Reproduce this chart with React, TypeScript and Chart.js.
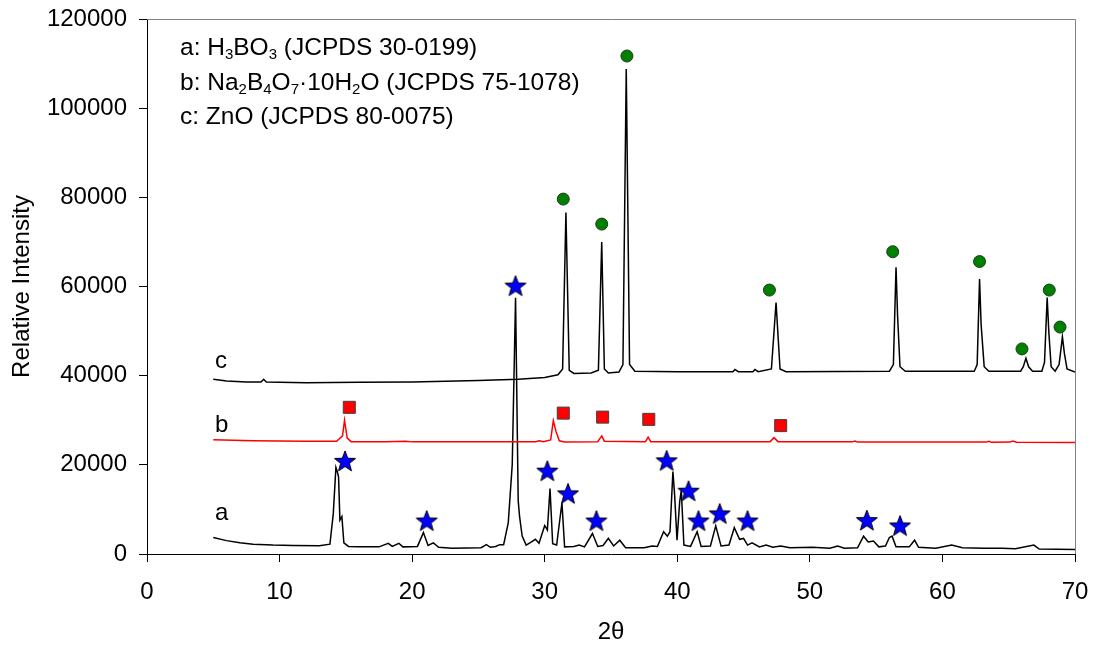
import React, { useEffect, useRef } from 'react';
import { Chart, registerables } from 'chart.js';

Chart.register(...registerables);

const FONT = '"Liberation Sans", Arial, sans-serif';

// x axis (2θ) and y axis (intensity) ticks
const xTicks = [0, 10, 20, 30, 40, 50, 60, 70];
const yTicks = [0, 20000, 40000, 60000, 80000, 100000, 120000];

// trace a: H3BO3 (black, bottom)
const traceA: [number, number][] = [
  [5.0, 3700], [6.0, 3000], [7.0, 2500], [8.0, 2200], [9.5, 2000], [11, 1900], [13.0, 1850],
  [13.8, 2200], [14.05, 9000], [14.25, 19400], [14.35, 18500], [14.45, 17300], [14.55, 7600],
  [14.7, 8400], [14.85, 2500], [15.2, 1700], [16, 1600], [17.5, 1600], [18.2, 2400], [18.5, 1700],
  [19.0, 2400], [19.3, 1600], [20.4, 1700], [20.85, 4800], [21.2, 1900], [21.6, 2500], [22.0, 1500],
  [23, 1300], [25.2, 1400], [25.6, 2100], [25.9, 1500], [26.3, 1700], [26.6, 2100], [26.9, 2100],
  [27.25, 7000], [27.55, 20000], [27.8, 57500], [28.0, 12000], [28.1, 8500], [28.3, 4000],
  [28.6, 2000], [29.0, 2700], [29.3, 3300], [29.57, 2400], [30.0, 6400], [30.2, 5400], [30.4, 14700],
  [30.6, 2300], [30.9, 2000], [31.3, 11500], [31.5, 1600], [32.2, 1700], [32.6, 2000], [33.0, 1600],
  [33.6, 4600], [34.0, 1700], [34.4, 1900], [34.8, 3500], [35.2, 1800], [35.66, 3100], [36.1, 1400],
  [37.5, 1400], [38.1, 1800], [38.5, 1700], [38.97, 5000], [39.25, 4000], [39.45, 5000], [39.67, 18500],
  [39.8, 13200], [39.98, 3100], [40.18, 11700], [40.3, 14300], [40.5, 2000], [41.0, 1700], [41.5, 5000],
  [41.8, 1700], [42.5, 1800], [42.9, 6300], [43.3, 1800], [43.9, 2000], [44.3, 5900], [44.7, 3300],
  [45.0, 3500], [45.3, 2000], [45.64, 2500], [46.2, 1600], [46.7, 2000], [47.2, 1500], [47.8, 1800],
  [48.5, 1400], [50.2, 1500], [51.5, 1300], [52.1, 1800], [52.6, 1300], [53.6, 1400], [54.05, 4000],
  [54.4, 2700], [54.8, 2900], [55.2, 1600], [55.7, 1800], [56.0, 3700], [56.2, 4000], [56.5, 1600],
  [57.5, 1600], [57.9, 3100], [58.2, 1500], [59.5, 1300], [60.7, 2000], [61.5, 1400], [63.1, 1300],
  [64.5, 1300], [65.5, 1200], [66.9, 2000], [67.3, 1100], [70, 1000],
];

// trace b: Na2B4O7·10H2O (red, middle)
const traceB: [number, number][] = [
  [5, 25600], [8, 25400], [12, 25300], [14.3, 25300], [14.75, 26500], [14.9, 30000], [15.1, 26000],
  [15.4, 25200], [18, 25200], [19.5, 25300], [20, 25150], [29.3, 25200], [29.6, 25400], [29.9, 25200],
  [30.45, 25600], [30.65, 29900], [30.85, 27500], [31.1, 25400], [31.5, 25100], [34.0, 25200],
  [34.3, 26500], [34.5, 25300], [37.6, 25200], [37.8, 26200], [38.0, 25200], [47.0, 25200],
  [47.3, 26100], [47.6, 25200], [53.2, 25150], [53.4, 25350], [53.6, 25100], [63.3, 25100],
  [63.5, 25300], [63.7, 25050], [65.1, 25100], [65.3, 25350], [65.6, 25050], [70, 25000],
];

// trace c: ZnO (black, top)
const traceC: [number, number][] = [
  [5, 39200], [6, 38800], [7.5, 38600], [8.6, 38600], [8.8, 39200], [9.0, 38600], [12, 38400],
  [16, 38500], [20, 38600], [25, 38900], [28, 39200], [30, 39600], [31.0, 40200], [31.35, 41500],
  [31.6, 76600], [31.85, 41200], [32.2, 40500], [33.5, 40600], [34.05, 41200], [34.3, 70000],
  [34.5, 41500], [34.8, 40600], [35.6, 40800], [35.9, 42500], [36.15, 108800], [36.4, 42500],
  [36.8, 41000], [40, 40900], [44.2, 40900], [44.35, 41400], [44.6, 40900], [45.7, 40900],
  [45.86, 41400], [46.1, 40900], [47.1, 41500], [47.45, 56400], [47.75, 41500], [48.2, 40900],
  [56.0, 41000], [56.3, 42500], [56.5, 64300], [56.62, 53200], [56.8, 42000], [57.2, 41000],
  [62.4, 41000], [62.62, 42500], [62.8, 61700], [62.92, 51400], [63.15, 42000], [63.5, 41000],
  [65.9, 41000], [66.1, 42000], [66.3, 43900], [66.5, 42000], [66.8, 41000], [67.5, 41000],
  [67.7, 43000], [67.9, 57500], [68.03, 49600], [68.2, 42000], [68.5, 41000], [68.8, 42500],
  [69.05, 48700], [69.2, 45000], [69.4, 41500], [70, 40800],
];

// phase markers
const starMarks: [number, number][] = [
  [14.94, 20900], [21.1, 7500], [27.8, 60200], [30.2, 18700], [31.76, 13600], [33.9, 7500],
  [39.2, 21000], [40.85, 14200], [41.6, 7500], [43.2, 9100], [45.3, 7500], [54.3, 7600], [56.8, 6400],
];
const squareMarks: [number, number][] = [
  [15.26, 32900], [31.4, 31600], [34.37, 30700], [37.85, 30200], [47.8, 28800],
];
const circleMarks: [number, number][] = [
  [31.4, 79600], [34.3, 74000], [36.2, 111700], [46.95, 59200], [56.25, 67800], [62.8, 65600],
  [66.0, 46000], [68.06, 59200], [68.87, 50900],
];

// trace letters: text, 2θ, intensity (baseline)
const traceLabels: [string, number, number][] = [
  ['a', 5.13, 7600], ['b', 5.13, 27400], ['c', 5.13, 41700],
];

// legend lines: [text, isSubscript]
const legendLines: [string, boolean][][] = [
  [['a: H', false], ['3', true], ['BO', false], ['3', true], [' (JCPDS 30-0199)', false]],
  [['b: Na', false], ['2', true], ['B', false], ['4', true], ['O', false], ['7', true],
    ['\u00b710H', false], ['2', true], ['O (JCPDS 75-1078)', false]],
  [['c: ZnO (JCPDS 80-0075)', false]],
];

function makeStar(R: number, r: number): HTMLCanvasElement {
  const size = Math.ceil(2 * R + 4);
  const c = document.createElement('canvas');
  c.width = size;
  c.height = size;
  const ctx = c.getContext('2d')!;
  const cx = size / 2;
  const cy = size / 2 + R * 0.095;
  ctx.beginPath();
  for (let i = 0; i < 10; i++) {
    const rad = i % 2 === 0 ? R : r;
    const a = -Math.PI / 2 + (i * Math.PI) / 5;
    const px = cx + rad * Math.cos(a);
    const py = cy + rad * Math.sin(a);
    if (i === 0) ctx.moveTo(px, py);
    else ctx.lineTo(px, py);
  }
  ctx.closePath();
  ctx.fillStyle = '#0000ff';
  ctx.fill();
  ctx.strokeStyle = '#000000';
  ctx.lineWidth = 1;
  ctx.stroke();
  return c;
}

const toXY = (arr: [number, number][]) => arr.map(([x, y]) => ({ x, y }));

export default function App() {
  const ref = useRef<HTMLCanvasElement>(null);

  useEffect(() => {
    if (!ref.current) return;
    const star = makeStar(11, 4.6);

    const annot = {
      id: 'annot',
      afterDraw(chart: any) {
        const { ctx, chartArea, scales } = chart;
        ctx.save();
        // frame top/right
        ctx.strokeStyle = '#808080';
        ctx.lineWidth = 1;
        ctx.beginPath();
        ctx.moveTo(chartArea.left, chartArea.top + 0.5);
        ctx.lineTo(chartArea.right + 0.5, chartArea.top + 0.5);
        ctx.lineTo(chartArea.right + 0.5, chartArea.bottom);
        ctx.stroke();

        ctx.fillStyle = '#000';
        ctx.textBaseline = 'alphabetic';
        ctx.textAlign = 'left';
        // trace letters
        ctx.font = `24px ${FONT}`;
        traceLabels.forEach(([t, x, y]) => {
          ctx.fillText(t, scales.x.getPixelForValue(x), scales.y.getPixelForValue(y));
        });
        // legend
        legendLines.forEach((line, i) => {
          let px = 180;
          const by = 55 + i * 34.5;
          line.forEach(([t, sub]) => {
            ctx.font = `${sub ? 15 : 24.5}px ${FONT}`;
            ctx.fillText(t, px, by + (sub ? 4 : 0));
            px += ctx.measureText(t).width;
          });
        });
        ctx.restore();
      },
    };

    const chart = new Chart(ref.current, {
      type: 'scatter',
      data: {
        datasets: [
          { type: 'line', data: toXY(traceA), borderColor: '#000', borderWidth: 1.5, pointRadius: 0, tension: 0, fill: false, order: 5 },
          { type: 'line', data: toXY(traceB), borderColor: '#ff0000', borderWidth: 1.5, pointRadius: 0, tension: 0, fill: false, order: 4 },
          { type: 'line', data: toXY(traceC), borderColor: '#000', borderWidth: 1.5, pointRadius: 0, tension: 0, fill: false, order: 3 },
          { data: toXY(starMarks), pointStyle: star as any, pointRadius: 11, showLine: false, order: 1 },
          { data: toXY(squareMarks), pointStyle: 'rect', pointRadius: 8.5, backgroundColor: '#ff0000', borderColor: '#404040', borderWidth: 1, showLine: false, order: 1 },
          { data: toXY(circleMarks), pointStyle: 'circle', pointRadius: 6, backgroundColor: '#008000', borderColor: '#1a3a1a', borderWidth: 1, showLine: false, order: 1 },
        ] as any,
      },
      options: {
        responsive: false,
        animation: false,
        devicePixelRatio: 1,
        layout: { padding: { top: 19, right: 22, left: 0, bottom: 0 } },
        plugins: { legend: { display: false }, tooltip: { enabled: false } },
        scales: {
          x: {
            type: 'linear',
            min: 0,
            max: 70,
            afterBuildTicks: (s: any) => { s.ticks = xTicks.map((v) => ({ value: v })); },
            afterFit: (s: any) => { s.height = 91; s.paddingLeft = 0; s.paddingRight = 0; s.paddingTop = 0; s.paddingBottom = 0; },
            grid: { drawOnChartArea: false, drawTicks: true, tickLength: 8, color: '#000' },
            border: { display: true, color: '#000', width: 1 },
            ticks: { color: '#000', font: { family: FONT, size: 24 }, padding: 16, maxRotation: 0 },
            title: { display: true, text: '2\u03b8', color: '#000', font: { family: FONT, size: 24 }, padding: { top: 0, bottom: -2 } },
          },
          y: {
            type: 'linear',
            min: 0,
            max: 120000,
            afterBuildTicks: (s: any) => { s.ticks = yTicks.map((v) => ({ value: v })); },
            afterFit: (s: any) => { s.width = 147; s.paddingLeft = 0; s.paddingRight = 0; s.paddingTop = 0; s.paddingBottom = 0; },
            grid: { drawOnChartArea: false, drawTicks: true, tickLength: 8, color: '#000' },
            border: { display: true, color: '#000', width: 1 },
            ticks: { color: '#000', font: { family: FONT, size: 24 }, padding: 12, callback: (v: any) => String(v) },
            title: { display: true, text: 'Relative Intensity', color: '#000', font: { family: FONT, size: 24 }, padding: { top: 8, bottom: 0 } },
          },
        },
      },
      plugins: [annot],
    });
    return () => chart.destroy();
  }, []);

  return (
    <div style={{ position: 'fixed', left: 0, top: 0, width: 1097, height: 645, background: '#fff' }}>
      <canvas ref={ref} width={1097} height={645} style={{ display: 'block', width: 1097, height: 645 }} />
    </div>
  );
}
